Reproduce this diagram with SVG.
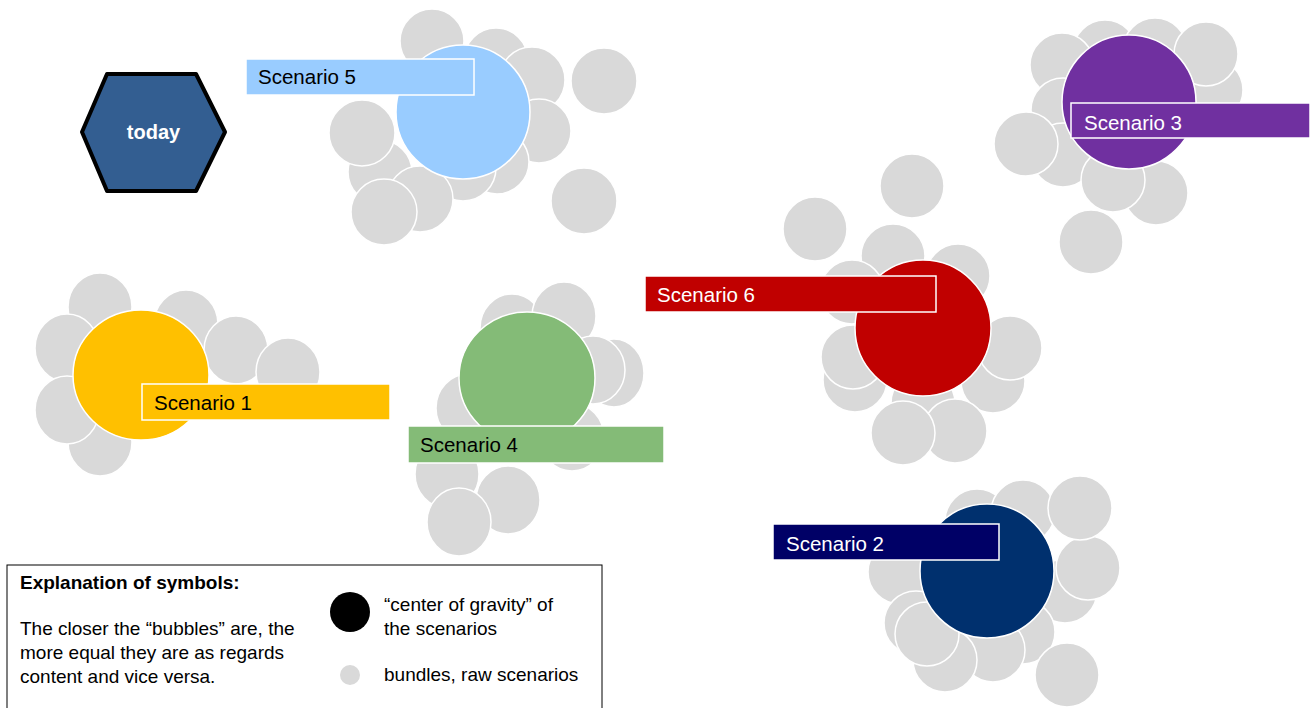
<svg xmlns="http://www.w3.org/2000/svg" width="1310" height="708" viewBox="0 0 1310 708">
  <style>
    .raw { fill: #d9d9d9; stroke: #ffffff; stroke-width: 1.5; }
    .core { stroke: #ffffff; stroke-width: 1.5; }
    .tag { stroke: #ffffff; stroke-width: 1.5; }
    .lbl { font-family: "Liberation Sans", Arial, sans-serif; font-size: 20.5px; }
    .dark { fill: #000000; }
    .light { fill: #ffffff; }
    .legend { font-family: "Liberation Sans", Arial, sans-serif; font-size: 19px; fill: #000000; }
  </style>
  <rect width="1310" height="708" fill="#ffffff"/>

  <!-- starting point -->
  <g id="today">
    <polygon points="82,132 107,74 196,74 225,132 196,191 107,191" fill="#335e91" stroke="#000000" stroke-width="4" stroke-linejoin="round"/>
    <text x="153.5" y="139" text-anchor="middle" font-family="Liberation Sans, Arial, sans-serif" font-size="20" font-weight="bold" fill="#ffffff">today</text>
  </g>

  <!-- Scenario 5 -->
  <g id="scenario5">
    <circle class="raw" cx="432" cy="41" r="32"/>
    <circle class="raw" cx="496" cy="60" r="32"/>
    <circle class="raw" cx="532" cy="80" r="33"/>
    <circle class="raw" cx="604" cy="81" r="33"/>
    <circle class="raw" cx="539" cy="131" r="32"/>
    <circle class="raw" cx="497" cy="162" r="32"/>
    <circle class="raw" cx="463" cy="168" r="33"/>
    <circle class="raw" cx="380" cy="172" r="32"/>
    <circle class="raw" cx="362" cy="133" r="33"/>
    <circle class="raw" cx="420" cy="199" r="33"/>
    <circle class="raw" cx="384" cy="212" r="33"/>
    <circle class="raw" cx="584" cy="201" r="33"/>
    <circle class="core" cx="463" cy="112" r="67" fill="#99ccff"/>
    <rect class="tag" x="246" y="59" width="228" height="36" fill="#99ccff"/>
    <text class="lbl dark" x="258" y="84">Scenario 5</text>
  </g>

  <!-- Scenario 3 -->
  <g id="scenario3">
    <circle class="raw" cx="1105" cy="52" r="32"/>
    <circle class="raw" cx="1155" cy="50" r="32"/>
    <circle class="raw" cx="1211" cy="90" r="32"/>
    <circle class="raw" cx="1206" cy="54" r="32"/>
    <circle class="raw" cx="1062" cy="65" r="32"/>
    <circle class="raw" cx="1063" cy="110" r="32"/>
    <circle class="raw" cx="1063" cy="155" r="32"/>
    <circle class="raw" cx="1026" cy="144" r="32"/>
    <circle class="raw" cx="1156" cy="193" r="32"/>
    <circle class="raw" cx="1113" cy="180" r="32"/>
    <circle class="raw" cx="1091" cy="242" r="32"/>
    <circle class="core" cx="1129" cy="102" r="67" fill="#7030a0"/>
    <rect class="tag" x="1071" y="103" width="239" height="35" fill="#7030a0"/>
    <text class="lbl light" x="1084" y="130">Scenario 3</text>
  </g>

  <!-- Scenario 1 -->
  <g id="scenario1">
    <ellipse class="raw" cx="100" cy="307" rx="32" ry="34"/>
    <ellipse class="raw" cx="186" cy="324" rx="32" ry="34"/>
    <ellipse class="raw" cx="236" cy="350" rx="32" ry="34"/>
    <ellipse class="raw" cx="288" cy="372" rx="32" ry="34"/>
    <ellipse class="raw" cx="67" cy="348" rx="32" ry="34"/>
    <ellipse class="raw" cx="100" cy="442" rx="32" ry="34"/>
    <ellipse class="raw" cx="67" cy="410" rx="32" ry="34"/>
    <ellipse class="core" cx="141" cy="375" rx="68" ry="65" fill="#ffc000"/>
    <rect class="tag" x="142" y="384" width="248" height="36" fill="#ffc000"/>
    <text class="lbl dark" x="154" y="410">Scenario 1</text>
  </g>

  <!-- Scenario 4 -->
  <g id="scenario4">
    <ellipse class="raw" cx="512" cy="328" rx="32" ry="34"/>
    <ellipse class="raw" cx="564" cy="316" rx="32" ry="34"/>
    <ellipse class="raw" cx="614" cy="373" rx="30" ry="34"/>
    <ellipse class="raw" cx="593" cy="370" rx="32" ry="34"/>
    <ellipse class="raw" cx="468" cy="408" rx="32" ry="34"/>
    <ellipse class="raw" cx="572" cy="437" rx="32" ry="34"/>
    <ellipse class="raw" cx="508" cy="500" rx="32" ry="34"/>
    <ellipse class="raw" cx="447" cy="474" rx="32" ry="34"/>
    <ellipse class="raw" cx="459" cy="522" rx="32" ry="34"/>
    <ellipse class="core" cx="527" cy="378" rx="68" ry="66" fill="#84bb77"/>
    <rect class="tag" x="408" y="426" width="256" height="37" fill="#84bb77"/>
    <text class="lbl dark" x="420" y="452">Scenario 4</text>
  </g>

  <!-- Scenario 6 -->
  <g id="scenario6">
    <circle class="raw" cx="815" cy="229" r="32"/>
    <circle class="raw" cx="912" cy="186" r="32"/>
    <circle class="raw" cx="893" cy="256" r="32"/>
    <circle class="raw" cx="958" cy="276" r="32"/>
    <circle class="raw" cx="852" cy="292" r="32"/>
    <circle class="raw" cx="855" cy="380" r="32"/>
    <circle class="raw" cx="993" cy="381" r="32"/>
    <circle class="raw" cx="1010" cy="348" r="32"/>
    <circle class="raw" cx="853" cy="357" r="32"/>
    <circle class="raw" cx="923" cy="403" r="32"/>
    <circle class="raw" cx="955" cy="431" r="32"/>
    <circle class="raw" cx="903" cy="433" r="32"/>
    <circle class="core" cx="923" cy="328" r="68" fill="#c00000"/>
    <rect class="tag" x="645" y="276" width="291" height="36" fill="#c00000"/>
    <text class="lbl light" x="657" y="302">Scenario 6</text>
  </g>

  <!-- Scenario 2 -->
  <g id="scenario2">
    <circle class="raw" cx="977" cy="521" r="32"/>
    <circle class="raw" cx="1023" cy="512" r="32"/>
    <circle class="raw" cx="1065" cy="591" r="32"/>
    <circle class="raw" cx="1088" cy="568" r="32"/>
    <circle class="raw" cx="1080" cy="508" r="32"/>
    <circle class="raw" cx="900" cy="572" r="32"/>
    <circle class="raw" cx="1023" cy="632" r="32"/>
    <circle class="raw" cx="993" cy="650" r="32"/>
    <circle class="raw" cx="945" cy="660" r="32"/>
    <circle class="raw" cx="916" cy="623" r="32"/>
    <circle class="raw" cx="927" cy="634" r="32"/>
    <circle class="raw" cx="1067" cy="675" r="32"/>
    <circle class="core" cx="987" cy="571" r="67" fill="#00306e"/>
    <rect class="tag" x="773" y="524" width="226" height="36" fill="#000066"/>
    <text class="lbl light" x="786" y="551">Scenario 2</text>
  </g>

  <!-- legend -->
  <g id="legend">
    <rect x="7" y="565" width="595" height="150" fill="#ffffff" stroke="#000000" stroke-width="1"/>
    <text class="legend" x="20" y="589" font-weight="bold">Explanation of symbols:</text>
    <text class="legend" x="20" y="635">The closer the “bubbles” are, the</text>
    <text class="legend" x="20" y="659">more equal they are as regards</text>
    <text class="legend" x="20" y="683">content and vice versa.</text>
    <ellipse cx="350" cy="612" rx="20" ry="20" fill="#000000"/>
    <text class="legend" x="384" y="611">“center of gravity” of</text>
    <text class="legend" x="384" y="635">the scenarios</text>
    <circle cx="350" cy="675" r="10" fill="#d9d9d9"/>
    <text class="legend" x="384" y="681">bundles, raw scenarios</text>
  </g>
</svg>
